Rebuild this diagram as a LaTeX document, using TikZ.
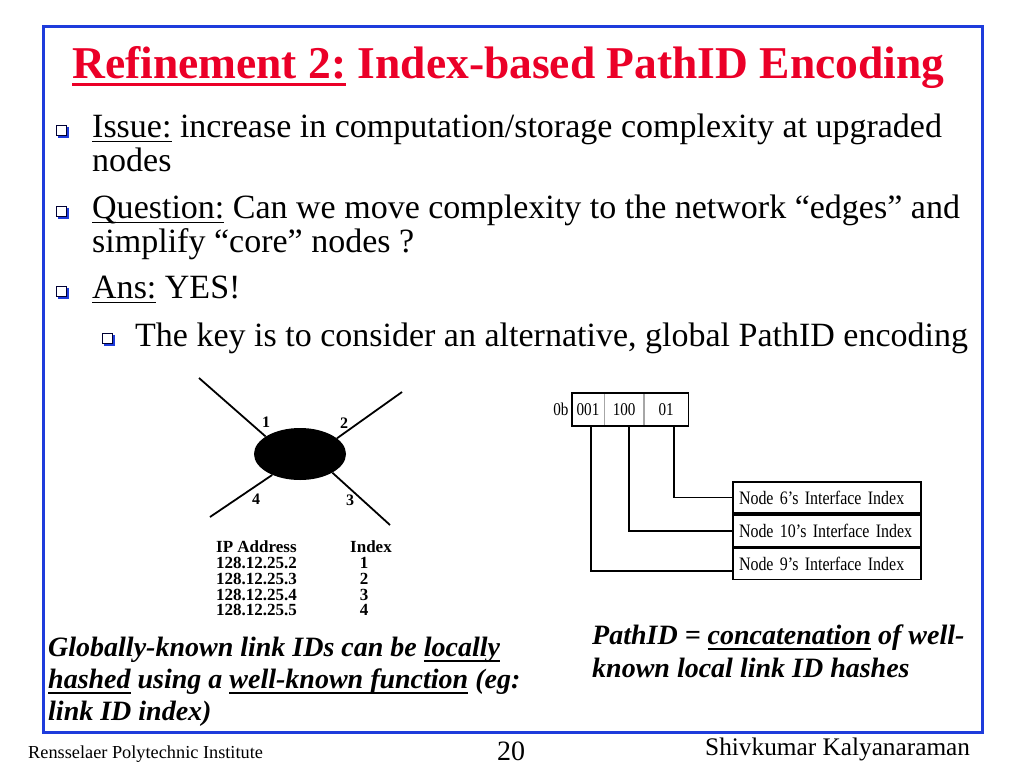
\documentclass[tikz,border=0pt]{standalone}
\usepackage{fontspec}
\setmainfont{Liberation Serif}
\newfontfamily\narrowfont[FakeStretch=0.84]{Liberation Serif}
\usetikzlibrary{positioning,calc,shapes.geometric}

\definecolor{slideblue}{RGB}{30,60,220}
\definecolor{titlered}{RGB}{235,0,40}

\newsavebox{\ulsave}
% #1 thickness, #2 depth below baseline, #3 text
\newcommand{\ulwith}[3]{\sbox{\ulsave}{#3}\rlap{\raisebox{-#2}{\rule{\wd\ulsave}{#1}}}\usebox{\ulsave}}
\newcommand{\ulhead}[1]{\ulwith{3pt}{8pt}{#1}}
\newcommand{\ulthin}[1]{\ulwith{1.3pt}{5pt}{#1}}
\newcommand{\ulthick}[1]{\ulwith{2.2pt}{6pt}{#1}}

\begin{document}
\begin{tikzpicture}[
        x=1pt, y=-1pt,
        txt/.style={anchor=base west, inner sep=0pt},
        bodytext/.style={txt, font=\fontsize{34}{34}\selectfont},
        notetext/.style={txt, font=\bfseries\itshape\fontsize{28}{28}\selectfont},
        tabletext/.style={anchor=base, inner sep=0pt, font=\bfseries\fontsize{17}{17}\selectfont},
        portlabel/.style={inner sep=0pt, font=\bfseries\fontsize{16}{16}\selectfont},
        sqbul/.style={draw=black!80!blue, line width=1pt, fill=white, minimum size=10pt, inner sep=0pt},
        bulshadow/.style={fill=slideblue},
        field/.style={draw=gray!70, line width=0.6pt, minimum height=33pt, inner sep=0pt,
            font=\narrowfont\fontsize{18}{18}\selectfont},
        ifbox/.style={draw, line width=1.6pt, text width=176pt, align=left,
            inner xsep=6pt, inner ysep=0pt, minimum height=31.5pt,
            font=\narrowfont\fontsize{19}{19}\selectfont},
        link/.style={line width=1.8pt},
        spoke/.style={line width=1.8pt}
    ]
    \useasboundingbox (0,0) rectangle (1024,768);
    \fill[white] (0,0) rectangle (1024,768);
    \draw[slideblue, line width=3pt] (43,27) rectangle (982,732);

    % title
    \node[txt, font=\bfseries\fontsize{45.5}{45.5}\selectfont, text=titlered] (title) at (72,78)
        {\ulhead{Refinement 2:} Index-based PathID Encoding};

    % bullets
    \foreach \name/\bx/\by in {bissue/61/130, bquestion/61/211, bans/61/291, bkey/107/338} {
        \fill[bulshadow] (\bx-3,\by-3) rectangle (\bx+7.5,\by+7.5);
        \node[sqbul] (\name) at (\bx,\by) {};
    }

    \node[bodytext] (issue) at (92,137) {\ulthin{Issue:} increase in computation/storage complexity at upgraded};
    \node[bodytext] (issue2) at (92,171) {nodes};
    \node[bodytext] (question) at (92,218) {\ulthin{Question:} Can we move complexity to the network “edges” and};
    \node[bodytext] (question2) at (92,252) {simplify “core” nodes ?};
    \node[bodytext] (ans) at (92,298) {\ulthin{Ans:} YES!};
    \node[bodytext] (key) at (135,346) {The key is to consider an alternative, global PathID encoding};

    % node with four links
    \node[ellipse, fill=black, minimum width=92pt, minimum height=52pt] (hub) at (300,454) {};
    \coordinate (e1) at (199,378);
    \coordinate (e2) at (402,392);
    \coordinate (e3) at (390,525);
    \coordinate (e4) at (210,517);
    \foreach \e/\a in {e1/153, e2/23, e3/-30, e4/217}
        \draw[spoke] (\e) -- (hub.\a);
    \node[portlabel] (lab1) at (266,422) {1};
    \node[portlabel] (lab2) at (344,423) {2};
    \node[portlabel] (lab3) at (350,500) {3};
    \node[portlabel] (lab4) at (256,499) {4};

    \node[tabletext, anchor=base west] (iphead) at (216,552) {IP Address};
    \node[tabletext] (idxhead) at (371,552) {Index};
    \foreach \i/\ry in {2/568.5, 3/584.5, 4/600, 5/615.5} {
        \node[tabletext, anchor=base west] (ip\i) at (216,\ry) {128.12.25.\i};
        \pgfmathtruncatemacro{\idx}{\i-1}
        \node[tabletext] (idx\i) at (364,\ry) {\idx};
    }

    % pathid fields
    \node[field, minimum width=32pt] (f1) at (588,409.5) {001};
    \node[field, minimum width=39pt, right=0pt of f1] (f2) {100};
    \node[field, minimum width=44pt, right=0pt of f2] (f3) {01};
    \draw[line width=1.8pt] (f1.north west) rectangle (f3.south east);
    \node[inner sep=0pt, left=3pt of f1, font=\narrowfont\fontsize{18}{18}\selectfont] (bin) {0b};

    \node[ifbox] (n6) at (827,497.5) {Node 6’s Interface Index};
    \node[ifbox, below=0pt of n6] (n10) {Node 10’s Interface Index};
    \node[ifbox, below=0pt of n10] (n9) {Node 9’s Interface Index};

    \draw[link] ([xshift=3pt]f1.south) |- ([yshift=-7pt]n9.west);
    \draw[link] ([xshift=4.5pt]f2.south) |- (n10.west);
    \draw[link] ([xshift=8pt]f3.south) |- (n6.west);

    % notes
    \node[notetext] (left1) at (48,656) {Globally-known link IDs can be \ulthick{locally}};
    \node[notetext] (left2) at (48,688) {\ulthick{hashed} using a \ulthick{well-known function} (eg:};
    \node[notetext] (left3) at (48,720) {link ID index)};
    \node[notetext] (right1) at (592,644) {PathID = \ulthick{concatenation} of well-};
    \node[notetext] (right2) at (592,677) {known local link ID hashes};

    % footer
    \node[txt, font=\fontsize{18.3}{18.3}\selectfont] (inst) at (28,758) {Rensselaer Polytechnic Institute};
    \node[txt, font=\fontsize{28}{28}\selectfont] (page) at (497,760) {20};
    \node[txt, font=\fontsize{25.3}{25.3}\selectfont] (author) at (705,755) {Shivkumar Kalyanaraman};
\end{tikzpicture}
\end{document}
